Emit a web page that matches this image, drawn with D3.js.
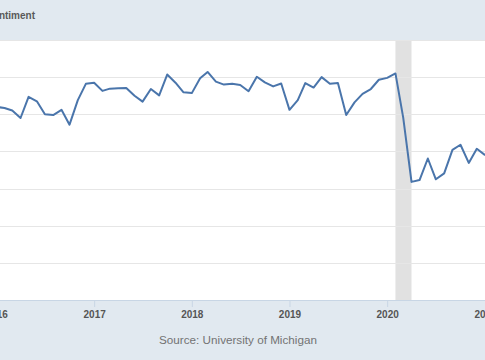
<!DOCTYPE html>
<html>
<head>
<meta charset="utf-8">
<script src="https://cdn.jsdelivr.net/npm/d3@7"></script>
<style>
html,body{margin:0;padding:0;background:#e1e9f0;}
svg{display:block;}
</style>
</head>
<body>
<svg id="chart" width="485" height="360"></svg>
<script>
const months = [
"2016-01","2016-02","2016-03","2016-04","2016-05","2016-06","2016-07","2016-08","2016-09","2016-10","2016-11","2016-12",
"2017-01","2017-02","2017-03","2017-04","2017-05","2017-06","2017-07","2017-08","2017-09","2017-10","2017-11","2017-12",
"2018-01","2018-02","2018-03","2018-04","2018-05","2018-06","2018-07","2018-08","2018-09","2018-10","2018-11","2018-12",
"2019-01","2019-02","2019-03","2019-04","2019-05","2019-06","2019-07","2019-08","2019-09","2019-10","2019-11","2019-12",
"2020-01","2020-02","2020-03","2020-04","2020-05","2020-06","2020-07","2020-08","2020-09","2020-10","2020-11","2020-12",
"2021-01"];
const sentiment = [
92.0,91.7,91.0,89.0,94.7,93.5,90.0,89.8,91.2,87.2,93.8,98.2,
98.5,96.3,96.9,97.0,97.1,95.0,93.4,96.8,95.1,100.7,98.5,95.9,
95.7,99.7,101.4,98.8,98.0,98.2,97.9,96.2,100.1,98.6,97.5,98.3,
91.2,93.8,98.4,97.2,100.0,98.2,98.4,89.8,93.2,95.5,96.8,99.3,
99.8,101.0,89.1,71.8,72.3,78.1,72.5,74.1,80.4,81.8,76.9,80.7,
79.0];
const yTicks = [40,50,60,70,80,90,100,110];
const yearTicks = ["2016","2017","2018","2019","2020","2021"];
const recession = ["2020-02","2020-04"];
const title = "University of Michigan: Consumer Sentiment";
const source = "Source: University of Michigan";

const parse = d3.timeParse("%Y-%m");
const parseY = d3.timeParse("%Y");
const data = months.map((m,i)=>({date:parse(m), value:sentiment[i]}));

const svg = d3.select("#chart");
const W = 485, H = 360;
const plotTop = 40, plotBottom = 300;

const x = d3.scaleTime()
  .domain([parseY("2016"), parseY("2021")])
  .range([-3.8, 485.1]);
const y = d3.scaleLinear().domain([40,110]).range([plotBottom, plotTop]);

// background
svg.append("rect").attr("x",0).attr("y",0).attr("width",W).attr("height",H).attr("fill","#e1e9f0");
// plot area
svg.append("rect").attr("x",0).attr("y",plotTop).attr("width",W).attr("height",plotBottom-plotTop).attr("fill","#ffffff");

// recession shading
svg.append("rect")
  .attr("x", x(parse(recession[0])))
  .attr("y", plotTop)
  .attr("width", x(parse(recession[1])) - x(parse(recession[0])))
  .attr("height", plotBottom-plotTop)
  .attr("fill","#e1e1e1");

// gridlines
svg.append("g").selectAll("line").data(yTicks.filter(d=>d>40)).join("line")
  .attr("x1",0).attr("x2",W)
  .attr("y1",d=>Math.round(y(d))+0.5).attr("y2",d=>Math.round(y(d))+0.5)
  .attr("stroke","#e6e6e6").attr("stroke-width",1);

// x axis
const xAxis = d3.axisBottom(x)
  .tickValues(yearTicks.map(parseY))
  .tickFormat(d3.timeFormat("%Y"))
  .tickSize(7).tickPadding(4);
const gx = svg.append("g").attr("transform",`translate(0,${plotBottom})`).call(xAxis);
gx.select(".domain").attr("stroke","#c8d6e5");
gx.selectAll(".tick line").attr("stroke","#c8d6e5");
gx.selectAll(".tick text")
  .attr("fill","#555555")
  .attr("font-family","Liberation Sans, Arial, sans-serif")
  .attr("font-size","10px")
  .attr("font-weight","bold");

// line
const line = d3.line().x(d=>x(d.date)).y(d=>y(d.value));
svg.append("path").datum(data)
  .attr("d", line)
  .attr("fill","none")
  .attr("stroke","#4a75ab")
  .attr("stroke-width",2)
  .attr("stroke-linejoin","round");

// title (cropped on the left)
svg.append("text")
  .attr("x",35).attr("y",19)
  .attr("text-anchor","end")
  .attr("fill","#595959")
  .attr("font-family","Liberation Sans, Arial, sans-serif")
  .attr("font-size","10px")
  .attr("font-weight","bold")
  .text(title);

// source
svg.append("text")
  .attr("x",238).attr("y",344)
  .attr("text-anchor","middle")
  .attr("fill","#737373")
  .attr("font-family","Liberation Sans, Arial, sans-serif")
  .attr("font-size","11.7px")
  .text(source);
</script>
</body>
</html>
